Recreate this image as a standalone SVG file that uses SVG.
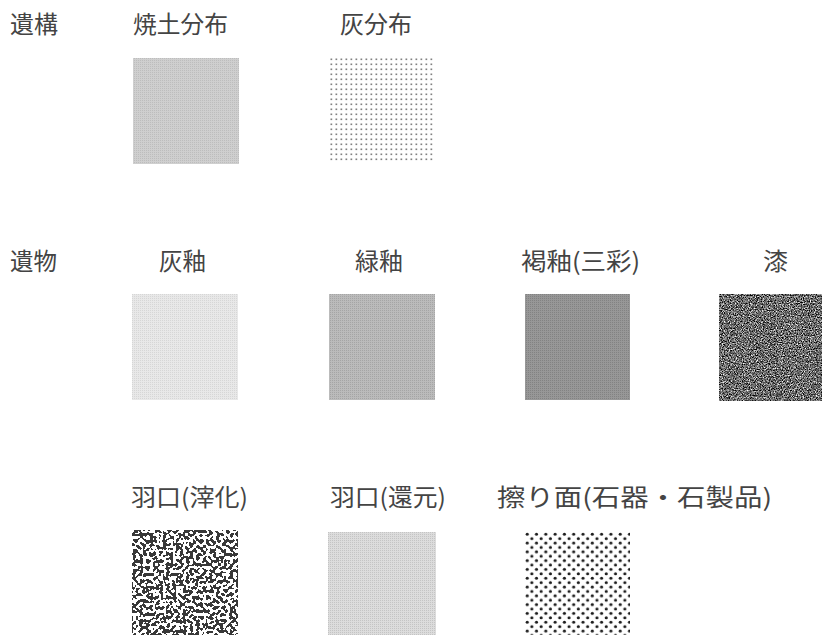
<svg xmlns="http://www.w3.org/2000/svg" width="822" height="635" viewBox="0 0 822 635">
  <style>
    text { font-family: "Noto Sans CJK JP", "Noto Sans", sans-serif; font-size: 24px; fill: #444; }
  </style>
  <defs>
    <pattern id="pYakedo" width="2" height="2" patternUnits="userSpaceOnUse">
      <rect width="2" height="2" fill="#cfcfcf"/>
      <rect width="1" height="1" fill="#bdbdbd"/>
    </pattern>
    <pattern id="pAsh" x="329" y="57" width="5" height="5" patternUnits="userSpaceOnUse">
      <rect width="5" height="5" fill="#ffffff"/>
      <rect x="1.5" y="1.5" width="1.7" height="1.6" fill="#808080"/>
    </pattern>
    <pattern id="pKaiyu" width="2" height="2" patternUnits="userSpaceOnUse">
      <rect width="2" height="2" fill="#e8e8e8"/>
      <rect width="1" height="1" fill="#d6d6d6"/>
    </pattern>
    <pattern id="pRyokuyu" width="2" height="2" patternUnits="userSpaceOnUse">
      <rect width="2" height="2" fill="#bbbbbb"/>
      <rect width="1" height="1" fill="#a5a5a5"/>
    </pattern>
    <pattern id="pKatsuyu" width="2" height="2" patternUnits="userSpaceOnUse">
      <rect width="2" height="2" fill="#979797"/>
      <rect width="1" height="1" fill="#828282"/>
    </pattern>
    <pattern id="pKangen" width="2" height="2" patternUnits="userSpaceOnUse">
      <rect width="2" height="2" fill="#dcdcdc"/>
      <rect width="1" height="1" fill="#c4c4c4"/>
    </pattern>
    <pattern id="pSuri" x="525" y="532" width="9.3" height="8.8" patternUnits="userSpaceOnUse">
      <rect width="9.3" height="8.8" fill="#ffffff"/>
      <circle cx="2.2" cy="2.2" r="1.55" fill="#1a1a1a"/>
      <circle cx="6.85" cy="6.6" r="1.55" fill="#1a1a1a"/>
    </pattern>
    <filter id="fUrushi" x="0" y="0" width="1" height="1" color-interpolation-filters="sRGB">
      <feTurbulence type="fractalNoise" baseFrequency="0.85" numOctaves="2" seed="7" result="n"/>
      <feColorMatrix in="n" type="matrix" values="1 0 0 0 0  1 0 0 0 0  1 0 0 0 0  0 0 0 0 1"/>
      <feComponentTransfer>
        <feFuncR type="linear" slope="1.9" intercept="-0.53"/>
        <feFuncG type="linear" slope="1.9" intercept="-0.53"/>
        <feFuncB type="linear" slope="1.9" intercept="-0.53"/>
      </feComponentTransfer>
    </filter>
    <filter id="fSaika" x="0" y="0" width="1" height="1" color-interpolation-filters="sRGB">
      <feTurbulence type="fractalNoise" baseFrequency="0.3" numOctaves="1" seed="11" result="n"/>
      <feColorMatrix in="n" type="matrix" values="1 0 0 0 0  1 0 0 0 0  1 0 0 0 0  0 0 0 0 1"/>
      <feComponentTransfer>
        <feFuncR type="discrete" tableValues="0.22 0.22 0.22 0.22 0.22 1 1 1 1 1"/>
        <feFuncG type="discrete" tableValues="0.22 0.22 0.22 0.22 0.22 1 1 1 1 1"/>
        <feFuncB type="discrete" tableValues="0.22 0.22 0.22 0.22 0.22 1 1 1 1 1"/>
      </feComponentTransfer>
    </filter>
  </defs>

  <rect width="822" height="635" fill="#ffffff"/>

  <g id="row-ikou">
    <text x="10" y="33" textLength="48" lengthAdjust="spacingAndGlyphs">遺構</text>
  </g>
  <g id="node-yakedo">
    <text x="133" y="33" textLength="95" lengthAdjust="spacingAndGlyphs">焼土分布</text>
    <rect x="133" y="58" width="106" height="106" fill="url(#pYakedo)"/>
  </g>
  <g id="node-hai">
    <text x="340" y="33" textLength="72" lengthAdjust="spacingAndGlyphs">灰分布</text>
    <rect x="329" y="57" width="105" height="105" fill="url(#pAsh)"/>
  </g>

  <g id="row-ibutsu">
    <text x="10" y="270" textLength="47" lengthAdjust="spacingAndGlyphs">遺物</text>
  </g>
  <g id="node-kaiyu">
    <text x="159" y="270" textLength="47" lengthAdjust="spacingAndGlyphs">灰釉</text>
    <rect x="132" y="294" width="106" height="106" fill="url(#pKaiyu)"/>
  </g>
  <g id="node-ryokuyu">
    <text x="355" y="270" textLength="48" lengthAdjust="spacingAndGlyphs">緑釉</text>
    <rect x="329" y="294" width="106" height="106" fill="url(#pRyokuyu)"/>
  </g>
  <g id="node-katsuyu">
    <text x="521" y="270" textLength="119" lengthAdjust="spacingAndGlyphs">褐釉(三彩)</text>
    <rect x="525" y="294" width="105" height="106" fill="url(#pKatsuyu)"/>
  </g>
  <g id="node-urushi">
    <text x="763" y="270" textLength="25" lengthAdjust="spacingAndGlyphs">漆</text>
    <rect x="719" y="294" width="103" height="107" fill="#777" filter="url(#fUrushi)"/>
  </g>

  <g id="node-haguchi-saika">
    <text x="131" y="506" textLength="117" lengthAdjust="spacingAndGlyphs">羽口(滓化)</text>
    <rect x="132" y="530" width="106" height="105" fill="#fff" filter="url(#fSaika)"/>
  </g>
  <g id="node-haguchi-kangen">
    <text x="330" y="506" textLength="116" lengthAdjust="spacingAndGlyphs">羽口(還元)</text>
    <rect x="328" y="532" width="108" height="103" fill="url(#pKangen)"/>
  </g>
  <g id="node-surimen">
    <text x="497" y="506" textLength="275" lengthAdjust="spacingAndGlyphs">擦り面(石器・石製品)</text>
    <rect x="525" y="532" width="105" height="103" fill="url(#pSuri)"/>
  </g>
</svg>
